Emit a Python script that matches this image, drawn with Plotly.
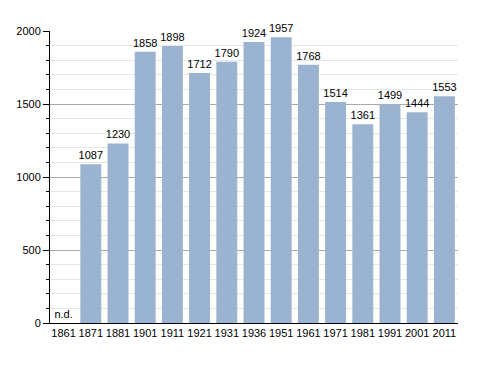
import plotly.graph_objects as go

years = ["1861", "1871", "1881", "1901", "1911", "1921", "1931", "1936",
         "1951", "1961", "1971", "1981", "1991", "2001", "2011"]
population = [None, 1087, 1230, 1858, 1898, 1712, 1790, 1924,
              1957, 1768, 1514, 1361, 1499, 1444, 1553]
labels = ["n.d." if v is None else str(v) for v in population]

fig = go.Figure()
fig.add_trace(go.Bar(
    x=years,
    y=[0 if v is None else v for v in population],
    text=labels,
    textposition="outside",
    constraintext="none",
    cliponaxis=False,
    textfont=dict(size=11, color="black", family="Liberation Sans, Arial"),
    marker=dict(color="#9ab3d0", line=dict(width=0)),
    width=0.77,
    hoverinfo="skip",
))
fig.update_layout(
    width=480, height=365,
    margin=dict(l=42, r=30, t=23, b=50, autoexpand=False),
    paper_bgcolor="white", plot_bgcolor="white",
    showlegend=False,
    font=dict(family="Liberation Sans, Arial", size=11, color="black"),
    bargap=0.23,
    uniformtext=dict(minsize=11, mode="show"),
)
fig.update_xaxes(
    type="category", automargin=False,
    showline=True, linecolor="black", linewidth=1,
    ticks="", showgrid=False,
    tickfont=dict(size=11),
)
fig.update_yaxes(
    range=[0, 2000], automargin=False,
    tickvals=[0, 500, 1000, 1500, 2000],
    showline=True, linecolor="black", linewidth=1,
    ticks="outside", ticklen=6, tickcolor="black",
    showgrid=True, gridcolor="#aaaaaa", gridwidth=1,
    zeroline=False,
    minor=dict(dtick=100, ticks="outside", ticklen=3, tickcolor="black",
               showgrid=True, gridcolor="#e6e6e6", gridwidth=1),
    tickfont=dict(size=11),
)
fig.write_html("out.html")
